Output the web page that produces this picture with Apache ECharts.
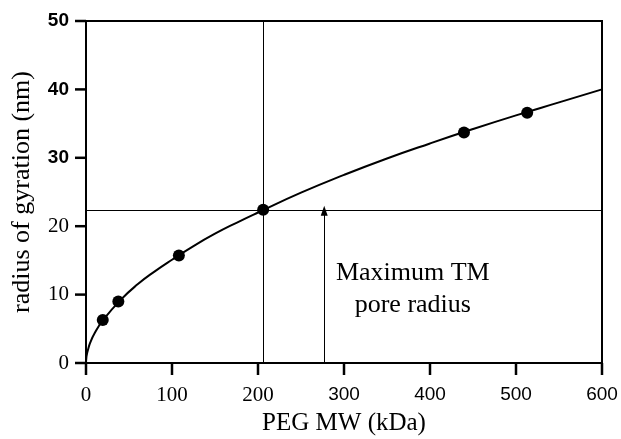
<!DOCTYPE html>
<html><head><meta charset="utf-8">
<script src="https://cdn.jsdelivr.net/npm/echarts@6/dist/echarts.min.js"></script>
<style>html,body{margin:0;padding:0;background:#fff}#c{width:621px;height:439px}</style>
</head><body><div id="c"></div>
<script>
// measured data points (PEG MW kDa, Rg nm)
const pointX = [19.5, 37.6, 108, 206, 439.5, 513];
const pointY = [6.3, 9.0, 15.7, 22.4, 33.7, 36.6];
// fitted curve
const curveX = [0, 0.5, 1, 2, 5, 10, 20, 40, 60, 80, 100, 125, 150, 175, 200, 250, 300, 350, 400, 450, 500, 550, 600];
const curveY = [0, 0.9, 1.25, 1.8, 3.0, 4.35, 6.3, 9.2, 11.5, 13.4, 15.1, 17.1, 18.9, 20.5, 22.0, 24.9, 27.5, 29.9, 32.1, 34.2, 36.2, 38.1, 40.0];
// reference lines
const poreMW = 206;
const poreRadius = 22.4;
const arrowX = 277;
const noteText = 'Maximum TM\npore radius';
const notePos = [380, 10.8];
const xTicks = [0, 100, 200, 300, 400, 500, 600];
const yTicks = [0, 10, 20, 30, 40, 50];

const chart = echarts.init(document.getElementById('c'), null, {renderer: 'canvas'});
const serif = '"Liberation Serif", "Times New Roman", serif';
const sans = '"Liberation Sans", Arial, sans-serif';
chart.setOption({
  backgroundColor: '#fff',
  animation: false,
  grid: {left: 86, right: 19, top: 21, bottom: 76, containLabel: false, outerBoundsMode: 'none',
         show: true, borderColor: '#000', borderWidth: 2, backgroundColor: 'transparent'},
  xAxis: {
    type: 'value', min: 0, max: 600, interval: 100,
    name: 'PEG MW (kDa)', nameLocation: 'middle', nameGap: 47,
    nameTextStyle: {fontFamily: serif, fontSize: 25, color: '#000'},
    axisLine: {show: true, onZero: false, lineStyle: {color: '#000', width: 2}},
    axisTick: {show: false},
    axisLabel: {
      show: true, margin: 22, color: '#000',
      formatter: v => (v >= 300 ? '{s|' + v + '}' : '{r|' + v + '}'),
      rich: {s: {fontFamily: sans, fontSize: 19, color: '#000'}, r: {fontFamily: serif, fontSize: 21, color: '#000'}}
    },
    splitLine: {show: false}
  },
  yAxis: {
    type: 'value', min: 0, max: 50, interval: 10,
    name: 'radius of gyration (nm)', nameLocation: 'middle', nameGap: 51, nameRotate: 90,
    nameTextStyle: {fontFamily: serif, fontSize: 26, color: '#000'},
    axisLine: {show: true, onZero: false, lineStyle: {color: '#000', width: 2}},
    axisTick: {show: false},
    axisLabel: {
      show: true, margin: 17, color: '#000',
      formatter: v => (v >= 30 ? '{s|' + v + '}' : '{r|' + v + '}'),
      rich: {s: {fontFamily: sans, fontSize: 19, fontWeight: 'bold', color: '#000'}, r: {fontFamily: serif, fontSize: 21, color: '#000'}}
    },
    splitLine: {show: false}
  },
  series: [
    {
      type: 'line', data: curveX.map((x, i) => [x, curveY[i]]), showSymbol: false, smooth: true,
      lineStyle: {color: '#000', width: 2}, z: 3,
      markLine: {
        silent: true, symbol: ['none', 'none'], label: {show: false},
        lineStyle: {color: '#000', width: 1, type: 'solid'},
        data: [
          [{coord: [poreMW, 0]}, {coord: [poreMW, 50]}],
          [{coord: [0, poreRadius]}, {coord: [600, poreRadius]}],
          [{coord: [arrowX, 0], symbol: 'none'}, {coord: [arrowX, poreRadius - 0.15], symbol: 'triangle', symbolSize: [7, 10]}]
        ]
      }
    },
    {
      type: 'scatter', data: pointX.map((x, i) => [x, pointY[i]]), symbol: 'circle', symbolSize: 12,
      itemStyle: {color: '#000', opacity: 1}, z: 4
    },
    {
      type: 'scatter', data: [notePos], symbolSize: 0, silent: true,
      label: {show: true, position: 'inside', formatter: noteText, fontFamily: serif, fontSize: 26, lineHeight: 32,
              color: '#000', textBorderWidth: 0, align: 'center', opacity: 1}
    }
  ]
});

// outward tick marks, positioned through the chart's own axis scales
const tickLen = 11;
const tickEls = [];
xTicks.forEach(v => {
  const p = chart.convertToPixel({gridIndex: 0}, [v, 0]);
  tickEls.push({type: 'line', silent: true, z: 10,
    shape: {x1: p[0], y1: p[1], x2: p[0], y2: p[1] + tickLen + 1},
    style: {stroke: '#000', lineWidth: 2.5}});
});
yTicks.forEach(v => {
  const p = chart.convertToPixel({gridIndex: 0}, [0, v]);
  tickEls.push({type: 'line', silent: true, z: 10,
    shape: {x1: p[0] - tickLen, y1: p[1], x2: p[0], y2: p[1]},
    style: {stroke: '#000', lineWidth: 2.5}});
});
chart.setOption({graphic: tickEls});
</script></body></html>
